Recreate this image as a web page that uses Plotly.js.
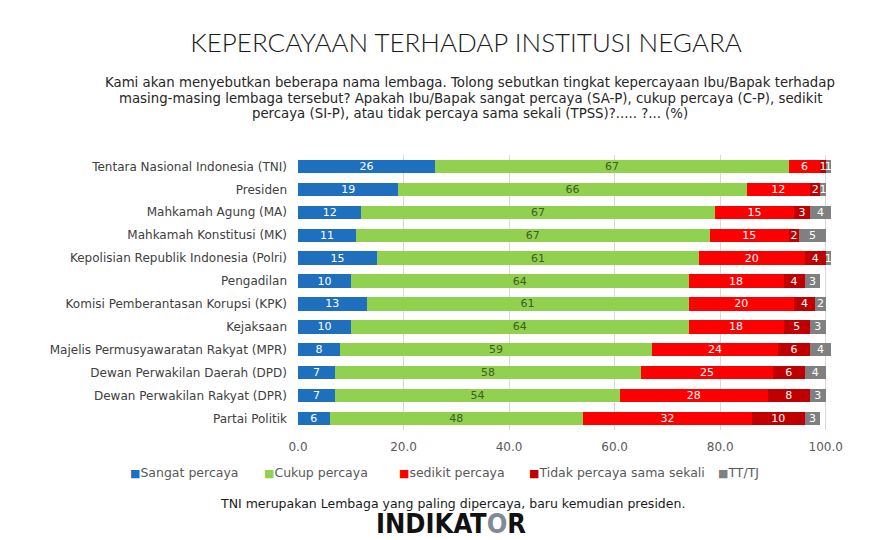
<!DOCTYPE html>
<html><head><meta charset="utf-8">
<script src="https://cdn.plot.ly/plotly-3.0.1.min.js"></script>
<style>html,body{margin:0;padding:0;background:#fff}#chart{width:888px;height:540px}</style>
</head><body><div id="chart"></div>
<script>
const categories = ["Tentara Nasional Indonesia (TNI)","Presiden","Mahkamah Agung (MA)","Mahkamah Konstitusi (MK)","Kepolisian Republik Indonesia (Polri)","Pengadilan","Komisi Pemberantasan Korupsi (KPK)","Kejaksaan","Majelis Permusyawaratan Rakyat (MPR)","Dewan Perwakilan Daerah (DPD)","Dewan Perwakilan Rakyat (DPR)","Partai Politik"];
const sangatPercaya = [26,19,12,11,15,10,13,10,8,7,7,6];
const cukupPercaya = [67,66,67,67,61,64,61,64,59,58,54,48];
const sedikitPercaya = [6,12,15,15,20,18,20,18,24,25,28,32];
const tidakPercaya = [1,2,3,2,4,4,4,5,6,6,8,10];
const ttTj = [1,1,4,5,1,3,2,3,4,4,3,3];
const seriesNames = ["Sangat percaya","Cukup percaya","sedikit percaya","Tidak percaya sama sekali","TT/TJ"];
const tickVals = [0,20,40,60,80,100];
const subtitleLines = [
  "Kami akan menyebutkan beberapa nama lembaga. Tolong sebutkan tingkat kepercayaan Ibu/Bapak terhadap",
  "masing-masing lembaga tersebut? Apakah Ibu/Bapak sangat percaya (SA-P), cukup percaya (C-P), sedikit",
  "percaya (SI-P), atau tidak percaya sama sekali (TPSS)?..... ?... (%)"
];

const FONT = "Lato, 'Open Sans', sans-serif";
const WIDE = "'DejaVu Sans', Verdana, sans-serif";
const colors = ["#1F6FBF","#92D050","#FF0000","#C00000","#808080"];
const textColors = ["#ffffff","#3d5e1e","#ffffff","#ffffff","#ffffff"];
const allSeries = [sangatPercaya,cukupPercaya,sedikitPercaya,tidakPercaya,ttTj];

const traces = allSeries.map((vals,i)=>({
  type:'bar', orientation:'h', name:seriesNames[i],
  y:categories, x:vals, text:vals.map(String),
  textposition:'inside', insidetextanchor:'middle', textangle:0,
  textfont:{family:WIDE,size:11,color:textColors[i]},
  marker:{color:colors[i]}, hoverinfo:'x+name'
}));

const W=888, H=540, plotL=298, plotR=57, plotTop=155, plotBot=430;
const py = px => (plotBot - px)/(plotBot-plotTop);
const pxX = x => (x-plotL)/(W-plotL-plotR);

// legend entries drawn as annotations
const legendX = [128,262,397,527,716];
const legendAnn = seriesNames.map((n,i)=>({
  xref:'paper', yref:'paper', showarrow:false, xanchor:'left', yanchor:'middle',
  x:pxX(legendX[i]), y:py(472),
  text:"<span style='color:"+colors[i]+";font-size:11px'>■</span>"+n,
  font:{family:WIDE,size:12.5,color:'#595959'}
}));

const subAnn = subtitleLines.map((t,i)=>({
  xref:'paper',yref:'paper',x:pxX(470),y:py(82+16*i),xanchor:'center',yanchor:'middle',showarrow:false,
  text:t, font:{family:WIDE,size:13.3,color:'#262626'}
}));

const layout = {
  width:W, height:H, barmode:'stack', bargap:0.42,
  margin:{l:plotL,r:plotR,t:plotTop,b:H-plotBot},
  paper_bgcolor:'#fff', plot_bgcolor:'#fff',
  font:{family:WIDE,color:'#404040'},
  uniformtext:{minsize:11,mode:'show'},
  showlegend:false,
  title:{text:"KEPERCAYAAN TERHADAP INSTITUSI NEGARA",xref:'container',x:466/W,xanchor:'center',
    yref:'container',y:1-43/H,yanchor:'middle',
    font:{family:FONT,size:26,color:'#1a1a1a',weight:300}},
  xaxis:{range:[0,101],tickvals:tickVals,tickformat:'.1f',showgrid:true,gridcolor:'#d9d9d9',gridwidth:1,
    zeroline:false,showline:false,ticks:'',ticklabelstandoff:8,
    tickfont:{family:WIDE,size:12,color:'#595959'},fixedrange:true},
  yaxis:{autorange:'reversed',ticks:'',ticklen:0,showline:false,showgrid:false,
    tickfont:{family:WIDE,size:12,color:'#404040'},ticklabelstandoff:10,fixedrange:true},
  annotations:[
    {xref:'paper',yref:'paper',x:pxX(452),y:py(503),xanchor:'center',yanchor:'middle',showarrow:false,
     text:"TNI merupakan Lembaga yang paling dipercaya, baru kemudian presiden.",
     font:{family:WIDE,size:12.5,color:'#1a1a1a'}},
    {xref:'paper',yref:'paper',x:pxX(451),y:py(523),xanchor:'center',yanchor:'middle',showarrow:false,
     text:"<b>INDIKAT<span style='color:#7f8a99'>O</span>R</b>",
     font:{family:"'DejaVu Sans Condensed','DejaVu Sans',sans-serif",size:27,color:'#111'}}
  ].concat(subAnn, legendAnn)
};

Plotly.newPlot('chart',traces,layout,{displayModeBar:false,staticPlot:true});
</script></body></html>
